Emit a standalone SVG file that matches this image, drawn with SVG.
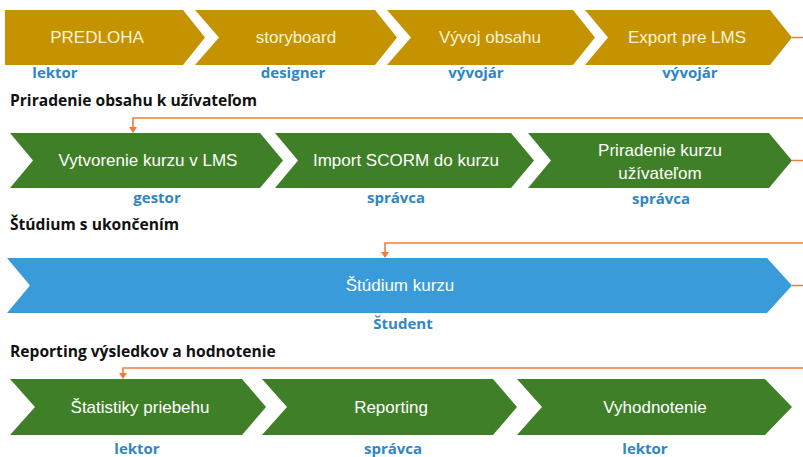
<svg xmlns="http://www.w3.org/2000/svg" width="803" height="457" viewBox="0 0 803 457">
<defs>
<style>
.gold{fill:#C59200;}
.green{fill:#3F7F27;}
.blue{fill:#3A9BDA;}
.t{font-family:"Liberation Sans","Open Sans",Arial,sans-serif;font-size:17px;text-anchor:middle;dominant-baseline:central;}
.tg{fill:#FFF3D6;}
.tw{fill:#FFFFFF;}
.role{font-family:"Open Sans","Liberation Sans",Arial,sans-serif;font-size:15px;font-weight:bold;fill:#2F86C6;text-anchor:middle;}
.head{font-family:"Open Sans","Liberation Sans",Arial,sans-serif;font-size:15.6px;font-weight:bold;fill:#111111;}
.conn{fill:none;stroke:#EE7D3A;stroke-width:1.6;}
.ah{fill:#EE7D3A;}
</style>
</defs>
<rect width="803" height="457" fill="#FFFFFF"/>

<g id="connectors">
<path class="conn" d="M792,37.5 H812 V118 H133 V130"/>
<path class="ah" d="M129,127 L137,127 L133,133 Z"/>
<path class="conn" d="M792,160.5 H812 V243 H385 V255"/>
<path class="ah" d="M381,252 L389,252 L385,258 Z"/>
<path class="conn" d="M792,285.5 H812 V368 H123 V376"/>
<path class="ah" d="M119,373 L127,373 L123,379 Z"/>
</g>

<g id="predloha">
<polygon class="gold" points="5,10 183,10 205,37.5 183,65 5,65"/>
<text class="t tg" x="97" y="37.5">PREDLOHA</text>
<text class="role" x="55" y="78">lektor</text>
</g>
<g id="storyboard">
<polygon class="gold" points="195,10 375,10 397,37.5 375,65 195,65 219,37.5"/>
<text class="t tg" x="296" y="37.5">storyboard</text>
<text class="role" x="293" y="78">designer</text>
</g>
<g id="vyvoj">
<polygon class="gold" points="387,10 573,10 595,37.5 573,65 387,65 411,37.5"/>
<text class="t tg" x="490" y="37.5">Vývoj obsahu</text>
<text class="role" x="476" y="78">vývojár</text>
</g>
<g id="export">
<polygon class="gold" points="585,10 770,10 792,37.5 770,65 585,65 608,37.5"/>
<text class="t tg" x="687" y="37.5">Export pre LMS</text>
<text class="role" x="690" y="78">vývojár</text>
</g>

<text class="head" x="10" y="106">Priradenie obsahu k užívateľom</text>

<g id="vytvorenie">
<polygon class="green" points="10,133 260,133 283,160.5 260,188 10,188 33,160.5"/>
<text class="t tw" x="148" y="160.5">Vytvorenie kurzu v LMS</text>
<text class="role" x="157" y="203">gestor</text>
</g>
<g id="import">
<polygon class="green" points="275,133 511,133 534,160.5 511,188 275,188 298,160.5"/>
<text class="t tw" x="406" y="160.5">Import SCORM do kurzu</text>
<text class="role" x="396" y="203">správca</text>
</g>
<g id="priradenie">
<polygon class="green" points="528,133 769,133 792,160.5 769,188 528,188 551,160.5"/>
<text class="t tw" x="660" y="150">Priradenie kurzu</text>
<text class="t tw" x="660" y="173">užívateľom</text>
<text class="role" x="661" y="204">správca</text>
</g>

<text class="head" x="10" y="230">Štúdium s ukončením</text>

<g id="studium">
<polygon class="blue" points="7,258 767,258 792,285.5 767,313 7,313 30,285.5"/>
<text class="t tw" x="400" y="285.5">Štúdium kurzu</text>
<text class="role" x="403" y="329">Študent</text>
</g>

<text class="head" x="10" y="357">Reporting výsledkov a hodnotenie</text>

<g id="statistiky">
<polygon class="green" points="10,379 242,379 266,407 242,435 10,435 35,407"/>
<text class="t tw" x="140" y="407">Štatistiky priebehu</text>
<text class="role" x="137" y="454">lektor</text>
</g>
<g id="reporting">
<polygon class="green" points="262,379 493,379 517,407 493,435 262,435 287,407"/>
<text class="t tw" x="391" y="407">Reporting</text>
<text class="role" x="393" y="454">správca</text>
</g>
<g id="vyhodnotenie">
<polygon class="green" points="517,379 765,379 792,407 765,435 517,435 542,407"/>
<text class="t tw" x="655" y="407">Vyhodnotenie</text>
<text class="role" x="645" y="454">lektor</text>
</g>
</svg>
